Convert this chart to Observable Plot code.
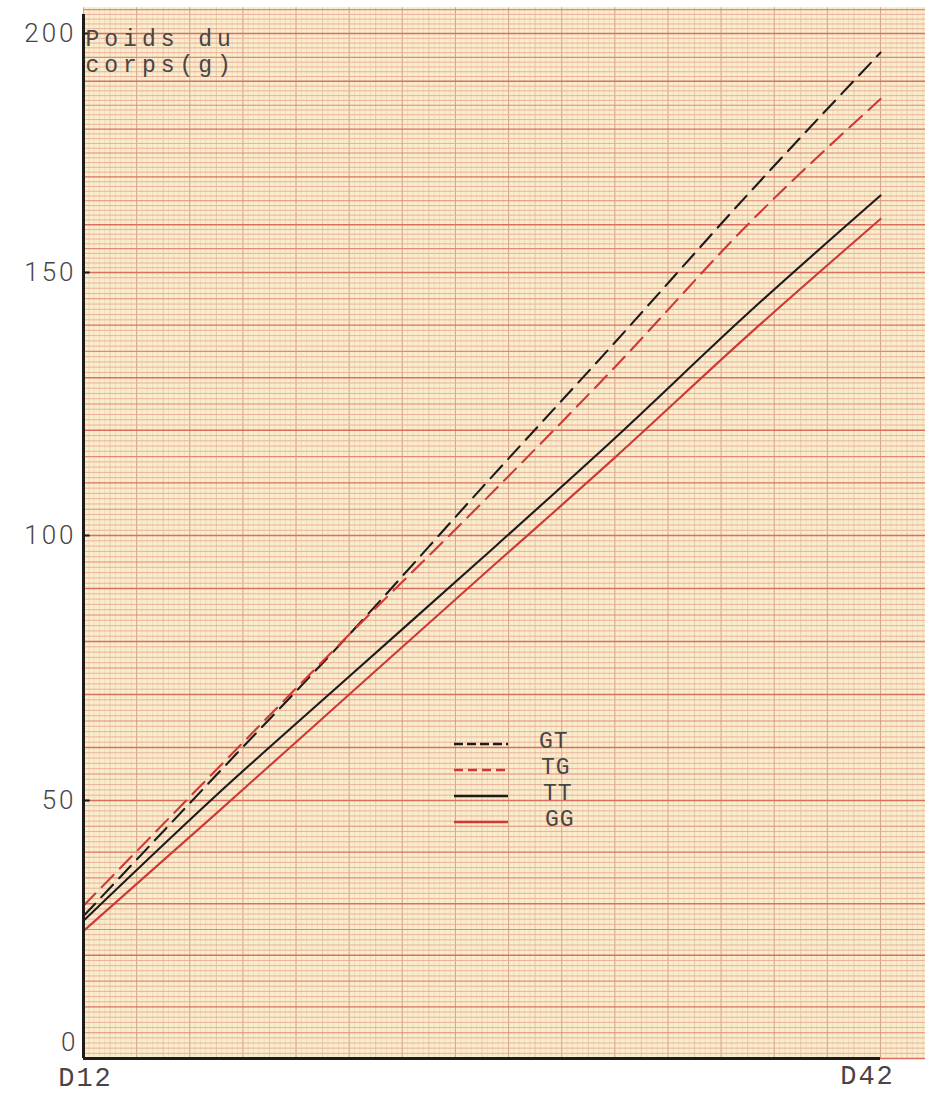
<!DOCTYPE html>
<html>
<head>
<meta charset="utf-8">
<script src="https://cdn.jsdelivr.net/npm/d3@7"></script>
<script src="https://cdn.jsdelivr.net/npm/@observablehq/plot@0.6"></script>
<style>
  body { margin: 0; background: #ffffff; }
  #wrap { position: relative; width: 925px; height: 1094px; }
  #legend { position: absolute; left: 0; top: 0; pointer-events: none; }
  g[aria-label="y-axis tick label"] text { letter-spacing: 3px; }
  g[aria-label="x-axis tick label"] text { letter-spacing: 2px; }
</style>
</head>
<body>
<div id="wrap"></div>
<script>
// ---- data ----
const days = [12, 17, 22, 27, 32, 37, 42];
const seriesNames = ["GT", "TG", "TT", "GG"];
const gtValues = [27.6, 54.8, 81.3, 109.1, 136.7, 166.3, 196.0];
const tgValues = [29.6, 55.8, 81.3, 106.2, 132.0, 160.0, 186.3];
const ttValues = [26.7, 51.0, 73.4, 95.7, 118.5, 142.2, 166.1];
const ggValues = [24.7, 47.5, 70.0, 92.4, 114.8, 138.0, 161.2];
const yTicks = [0, 50, 100, 150, 200];
const xTicks = [12, 42];
const xTickLabels = ["D12", "D42"];
const yTitle = "Poids du\ncorps(g)";

// ---- styles ----
const ink = "#1d1b1b";
const red = "#cd3a35";
const textInk = "#4a4444";
const styles = {
  GT: {stroke: ink, dash: "17,9", legendDash: "9,4"},
  TG: {stroke: red, dash: "17,9", legendDash: "9,5"},
  TT: {stroke: ink, dash: null, legendDash: null},
  GG: {stroke: red, dash: null, legendDash: null}
};
const valuesBySeries = {GT: gtValues, TG: tgValues, TT: ttValues, GG: ggValues};
const rows = seriesNames.flatMap(s => days.map((d, i) => ({series: s, day: d, value: valuesBySeries[s][i]})));

// graph-paper background (decoration)
const xPaperMax = 43.75, yPaperMax = 205.4;
const hMinor = d3.range(0, 206, 1).filter(v => v % 5 !== 0);
const hMid = d3.range(0, 206, 5).filter(v => v % 10 !== 0);
const hMajor = d3.range(0, 206, 10);
const vMinor = d3.range(0, 159).map(i => 12 + i * 0.2).filter((v, i) => i % 5 !== 0);
const vMid = d3.range(12, 44, 1).filter(v => (v - 12) % 2 !== 0);
const vMajor = d3.range(12, 44, 2);

const lineMarks = seriesNames.map(s => Plot.line(rows.filter(r => r.series === s), {
  x: "day", y: "value", stroke: styles[s].stroke, strokeWidth: 2.1,
  strokeDasharray: styles[s].dash, curve: "monotone-x"
}));

const chart = Plot.plot({
  width: 925,
  height: 1094,
  marginLeft: 83, marginRight: 45, marginTop: 33, marginBottom: 36,
  style: {background: "transparent", fontFamily: "'Liberation Mono', monospace"},
  x: {type: "linear", domain: [12, 42], range: [83, 880]},
  y: {type: "linear", domain: [0, 50, 100, 150, 200], range: [1058, 800, 535, 272, 33]},
  marks: [
    Plot.rect([0], {x1: 12, x2: xPaperMax, y1: 0, y2: yPaperMax, fill: "#f9edcc"}),
    Plot.ruleX(vMinor, {y1: 0, y2: yPaperMax, stroke: "#e6d4b4", strokeWidth: 0.6}),
    Plot.ruleX(vMid, {y1: 0, y2: yPaperMax, stroke: "#dcc1a0", strokeWidth: 0.8}),
    Plot.ruleX(vMajor, {y1: 0, y2: yPaperMax, stroke: "#d2ab8c", strokeWidth: 1.1}),
    Plot.ruleY(hMinor, {x1: 12, x2: xPaperMax, stroke: "#eca898", strokeWidth: 0.9}),
    Plot.ruleY(hMid, {x1: 12, x2: xPaperMax, stroke: "#e38877", strokeWidth: 1.1}),
    Plot.ruleY(hMajor, {x1: 12, x2: xPaperMax, stroke: "#dc6e61", strokeWidth: 1.4}),
    ...lineMarks,
    // axes
    Plot.ruleX([12], {y1: 0, y2: 204, stroke: ink, strokeWidth: 3}),
    Plot.ruleY([0], {x1: 12, x2: 42, stroke: ink, strokeWidth: 3}),
    Plot.ruleY(yTicks.slice(1), {x1: 12, x2: 12.25, stroke: ink, strokeWidth: 2}),
    Plot.axisY(yTicks.slice(1), {tickSize: 0, tickPadding: 7, fontSize: 26, fontFamily: "Roboto, 'Liberation Sans', sans-serif", fontWeight: 300, fill: textInk, label: null}),
    Plot.axisY([0], {tickSize: 0, tickPadding: 5, dy: -16, fontSize: 26, fontFamily: "Roboto, 'Liberation Sans', sans-serif", fontWeight: 300, fill: textInk, label: null}),
    Plot.axisX([xTicks[0]], {tickSize: 0, tickPadding: 8, dx: 2, tickFormat: () => xTickLabels[0], fontSize: 27, fontWeight: 400, fill: textInk, label: null}),
    Plot.axisX([xTicks[1]], {tickSize: 0, tickPadding: 6, dx: -13, tickFormat: () => xTickLabels[1], fontSize: 27, fontWeight: 400, fill: textInk, label: null}),
    Plot.text([yTitle], {frameAnchor: "top-left", lineAnchor: "top", dx: 2, dy: -6, lineHeight: 1.12, fontSize: 23, fontWeight: 400, textAnchor: "start", fill: textInk})
  ]
});
document.getElementById("wrap").appendChild(chart);

// typewriter-like spacing for the y title
d3.select(chart).selectAll("text")
  .filter(function () { return this.textContent.startsWith("Poids"); })
  .style("letter-spacing", "5px");

// legend overlay
const leg = d3.select("#wrap").append("svg").attr("id", "legend").attr("width", 925).attr("height", 1094);
seriesNames.forEach((s, i) => {
  const y = 744 + 26 * i;
  leg.append("line").attr("x1", 454).attr("x2", 508).attr("y1", y).attr("y2", y)
    .attr("stroke", styles[s].stroke).attr("stroke-width", 2.4)
    .attr("stroke-dasharray", styles[s].legendDash);
  leg.append("text").attr("x", 539 + i * 2).attr("y", y + 4)
    .attr("font-family", "'Liberation Mono', monospace").attr("font-size", 23)
    .attr("fill", textInk).style("letter-spacing", "1px").text(s);
});
</script>
</body>
</html>
